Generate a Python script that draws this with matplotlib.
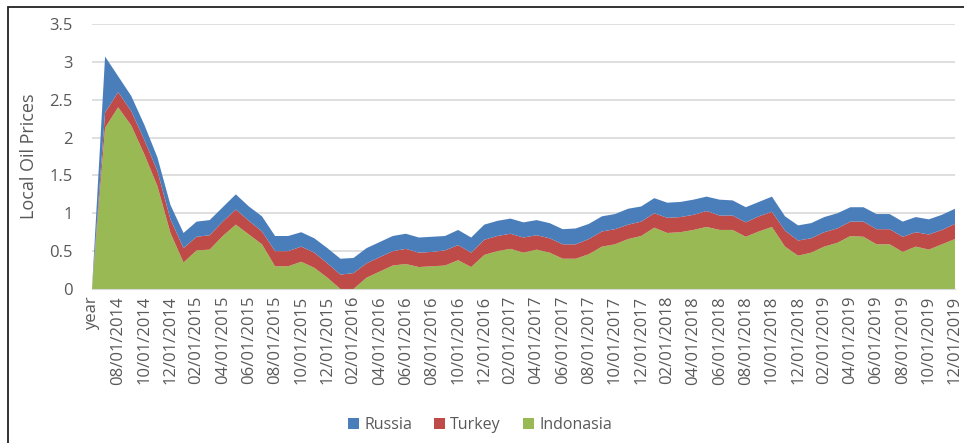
import matplotlib
matplotlib.use("Agg")
import matplotlib.pyplot as plt
import numpy as np
import pandas as pd

# Categories: "year" header row followed by monthly dates 07/2014 .. 12/2019
months = pd.date_range("2014-07-01", "2019-12-01", freq="MS")
categories = ["year"] + [d.strftime("%m/%d/%Y") for d in months]

# Stacked values
indonesia = [0.00, 2.13, 2.40, 2.16, 1.78, 1.36, 0.74, 0.35, 0.51, 0.52,
             0.70, 0.85, 0.72, 0.59, 0.30, 0.30, 0.36, 0.28, 0.15, 0.00,
             0.00, 0.15, 0.23, 0.31, 0.33, 0.29, 0.30, 0.31, 0.38, 0.29,
             0.45, 0.50, 0.53, 0.48, 0.52, 0.48, 0.40, 0.40, 0.46, 0.56,
             0.59, 0.66, 0.70, 0.81, 0.74, 0.75, 0.78, 0.82, 0.78, 0.78,
             0.69, 0.76, 0.82, 0.56, 0.44, 0.48, 0.56, 0.61, 0.70, 0.69,
             0.59, 0.59, 0.49, 0.56, 0.52, 0.59, 0.66]
turkey = [0.00, 0.20, 0.20, 0.19, 0.19, 0.20, 0.18, 0.19, 0.18, 0.19,
          0.19, 0.20, 0.18, 0.17, 0.20, 0.20, 0.20, 0.20, 0.19, 0.19,
          0.21, 0.19, 0.19, 0.19, 0.20, 0.19, 0.19, 0.20, 0.20, 0.19,
          0.20, 0.20, 0.20, 0.20, 0.19, 0.19, 0.19, 0.19, 0.20, 0.20,
          0.20, 0.19, 0.19, 0.19, 0.20, 0.20, 0.20, 0.21, 0.19, 0.19,
          0.19, 0.20, 0.20, 0.21, 0.20, 0.19, 0.19, 0.19, 0.19, 0.20,
          0.20, 0.20, 0.20, 0.19, 0.20, 0.19, 0.20]
russia = [0.00, 0.74, 0.21, 0.20, 0.20, 0.18, 0.19, 0.20, 0.20, 0.20,
          0.19, 0.20, 0.19, 0.20, 0.20, 0.20, 0.19, 0.19, 0.20, 0.21,
          0.20, 0.20, 0.20, 0.20, 0.20, 0.20, 0.20, 0.19, 0.20, 0.20,
          0.20, 0.20, 0.20, 0.20, 0.20, 0.20, 0.20, 0.21, 0.20, 0.20,
          0.20, 0.21, 0.20, 0.20, 0.20, 0.20, 0.20, 0.19, 0.21, 0.20,
          0.20, 0.19, 0.20, 0.19, 0.20, 0.20, 0.20, 0.20, 0.19, 0.19,
          0.20, 0.20, 0.20, 0.20, 0.20, 0.20, 0.20]

series_names = ["Indonasia", "Turkey", "Russia"]
colors = {"Russia": "#4A7EBB", "Turkey": "#BE4B48", "Indonasia": "#98B954"}

plt.rcParams['font.family'] = ['Open Sans', 'DejaVu Sans']
text_color = "#595959"

fig = plt.figure(figsize=(9.64, 4.43), dpi=100)
ax = fig.add_axes([92/964, 1-289/443, (955-92)/964, (289-24)/443])

x = np.arange(len(categories))
polys = ax.stackplot(x, indonesia, turkey, russia,
                     colors=[colors[n] for n in series_names],
                     labels=series_names, linewidth=0, zorder=2)

ax.set_xlim(0, len(categories) - 1)
ax.set_ylim(0, 3.5)
ax.set_yticks(np.arange(0, 3.51, 0.5))
ax.set_yticklabels(["0", "0.5", "1", "1.5", "2", "2.5", "3", "3.5"])
ax.yaxis.grid(True, color="#D9D9D9", linewidth=1.2, zorder=0)
ax.set_axisbelow(True)
for s in ["top", "right", "left"]:
    ax.spines[s].set_visible(False)
ax.spines["bottom"].set_color("#D9D9D9")

tick_idx = [0] + list(range(2, len(categories), 2))
ax.set_xticks(tick_idx)
ax.set_xticklabels([categories[i] for i in tick_idx], rotation=90,
                   fontsize=12, color=text_color)
ax.tick_params(axis="x", length=0, pad=5)
ax.tick_params(axis="y", length=0, pad=14, labelsize=12, labelcolor=text_color)

ax.set_ylabel("Local Oil Prices", fontsize=13, color=text_color)
ax.yaxis.set_label_coords(-0.062, 0.5)

handles = [polys[2], polys[1], polys[0]]
leg = fig.legend(handles, ["Russia", "Turkey", "Indonasia"],
                 loc="center", bbox_to_anchor=(480/964, 1-425/443),
                 ncol=3, frameon=False, fontsize=11.5, handlelength=0.7,
                 handleheight=0.7, handletextpad=0.3, columnspacing=1.4,
                 labelcolor=text_color)

# outer frame
frame = plt.Rectangle((8/964, -0.05), 1.2, 1 - 7/443 + 0.05,
                      transform=fig.transFigure, fill=False,
                      edgecolor="#222222", linewidth=1.3)
fig.add_artist(frame)

fig.savefig("out.png", dpi=100, facecolor="white")
